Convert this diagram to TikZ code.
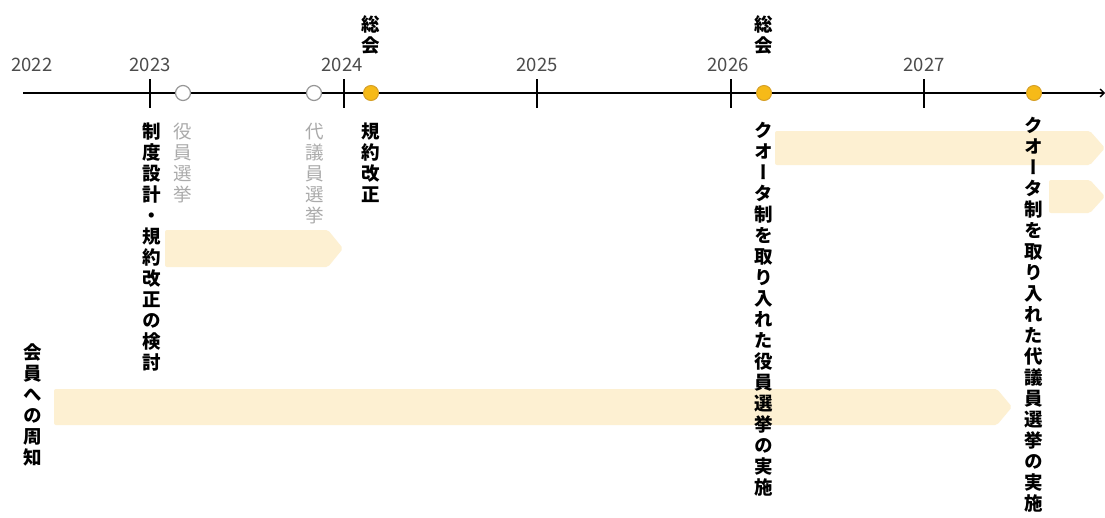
\documentclass[tikz,border=0pt]{standalone}
\usepackage{fontspec}
\newfontfamily\jp[RawFeature=+vert]{Noto Sans CJK JP}
\newfontfamily\jpy{Noto Sans CJK JP}
\usetikzlibrary{arrows.meta}
\definecolor{barc}{RGB}{253,240,210}
\definecolor{dotc}{RGB}{246,186,24}
\definecolor{dotd}{RGB}{214,160,40}
\definecolor{ringc}{RGB}{150,150,150}
\definecolor{greytxt}{RGB}{170,170,170}
\begin{document}
\begin{tikzpicture}[x=1pt,y=-1pt,
  bar/.style={fill=barc,draw=none,rounded corners=2pt},
  vlab/.style={anchor=north,inner sep=0pt,align=center,font=\jp\bfseries\fontsize{18.5}{21}\selectfont},
  glab/.style={vlab,text=greytxt,font=\jp\fontsize{18.5}{21}\selectfont},
  year/.style={anchor=base,inner sep=0pt,font=\jpy\fontsize{18.5}{18.5}\selectfont,text=black!70},
  tickm/.style={line width=1.4pt},
  ring/.style={circle,draw=ringc,fill=white,line width=1.2pt,minimum size=15pt,inner sep=0pt},
  gdot/.style={circle,draw=dotd,fill=dotc,line width=1pt,minimum size=15pt,inner sep=0pt}]
\useasboundingbox (0,0) rectangle (1105,517);
\fill[white] (0,0) rectangle (1105,517);
% bars
\path[bar] (165,230) -- (328,230) -- (343,248.5) -- (328,267) -- (165,267) -- cycle;
\path[bar] (54,389) -- (997,389) -- (1012,407) -- (997,425) -- (54,425) -- cycle;
\path[bar] (775,131) -- (1090,131) -- (1105,148) -- (1090,165) -- (775,165) -- cycle;
\path[bar] (1049,180) -- (1090,180) -- (1105,196.5) -- (1090,213) -- (1049,213) -- cycle;
% axis
\coordinate (a0) at (23,93);
\coordinate (a1) at (1105,93);
\draw[line width=1.4pt,-{Straight Barb[length=4pt,width=8pt]}] (a0) -- (a1);
% ticks
\foreach \x/\n in {150/t23,344/t24,537/t25,731/t26,924/t27}{
  \coordinate (\n a) at (\x,79); \coordinate (\n b) at (\x,108);
  \draw[tickm] (\n a) -- (\n b);}
% years
\node[year] (y22) at (32,71.5) {2022};
\node[year] (y23) at (150,71.5) {2023};
\node[year] (y24) at (342,71.5) {2024};
\node[year] (y25) at (537,71.5) {2025};
\node[year] (y26) at (728,71.5) {2026};
\node[year] (y27) at (924,71.5) {2027};
% dots
\node[ring] (r1) at (183,93) {};
\node[ring] (r2) at (314,93) {};
\node[gdot] (d1) at (371,93) {};
\node[gdot] (d2) at (764,93) {};
\node[gdot] (d3) at (1034,93) {};
% general meeting
\node[vlab] (s1) at (371,15) {総\\会};
\node[vlab] (s2) at (764,15) {総\\会};
% vertical labels
\node[vlab] (l1) at (152,123) {制\\度\\設\\計\\・\\規\\約\\改\\正\\の\\検\\討};
\node[glab] (l2) at (183,123) {役\\員\\選\\挙};
\node[glab] (l3) at (315,123) {代\\議\\員\\選\\挙};
\node[vlab] (l4) at (371,123) {規\\約\\改\\正};
\node[vlab] (l5) at (33,344) {会\\員\\へ\\の\\周\\知};
\node[vlab] (l6) at (764,122) {ク\\オ\\ー\\タ\\制\\を\\取\\り\\入\\れ\\た\\役\\員\\選\\挙\\の\\実\\施};
\node[vlab] (l7) at (1034,117) {ク\\オ\\ー\\タ\\制\\を\\取\\り\\入\\れ\\た\\代\\議\\員\\選\\挙\\の\\実\\施};
\end{tikzpicture}
\end{document}
